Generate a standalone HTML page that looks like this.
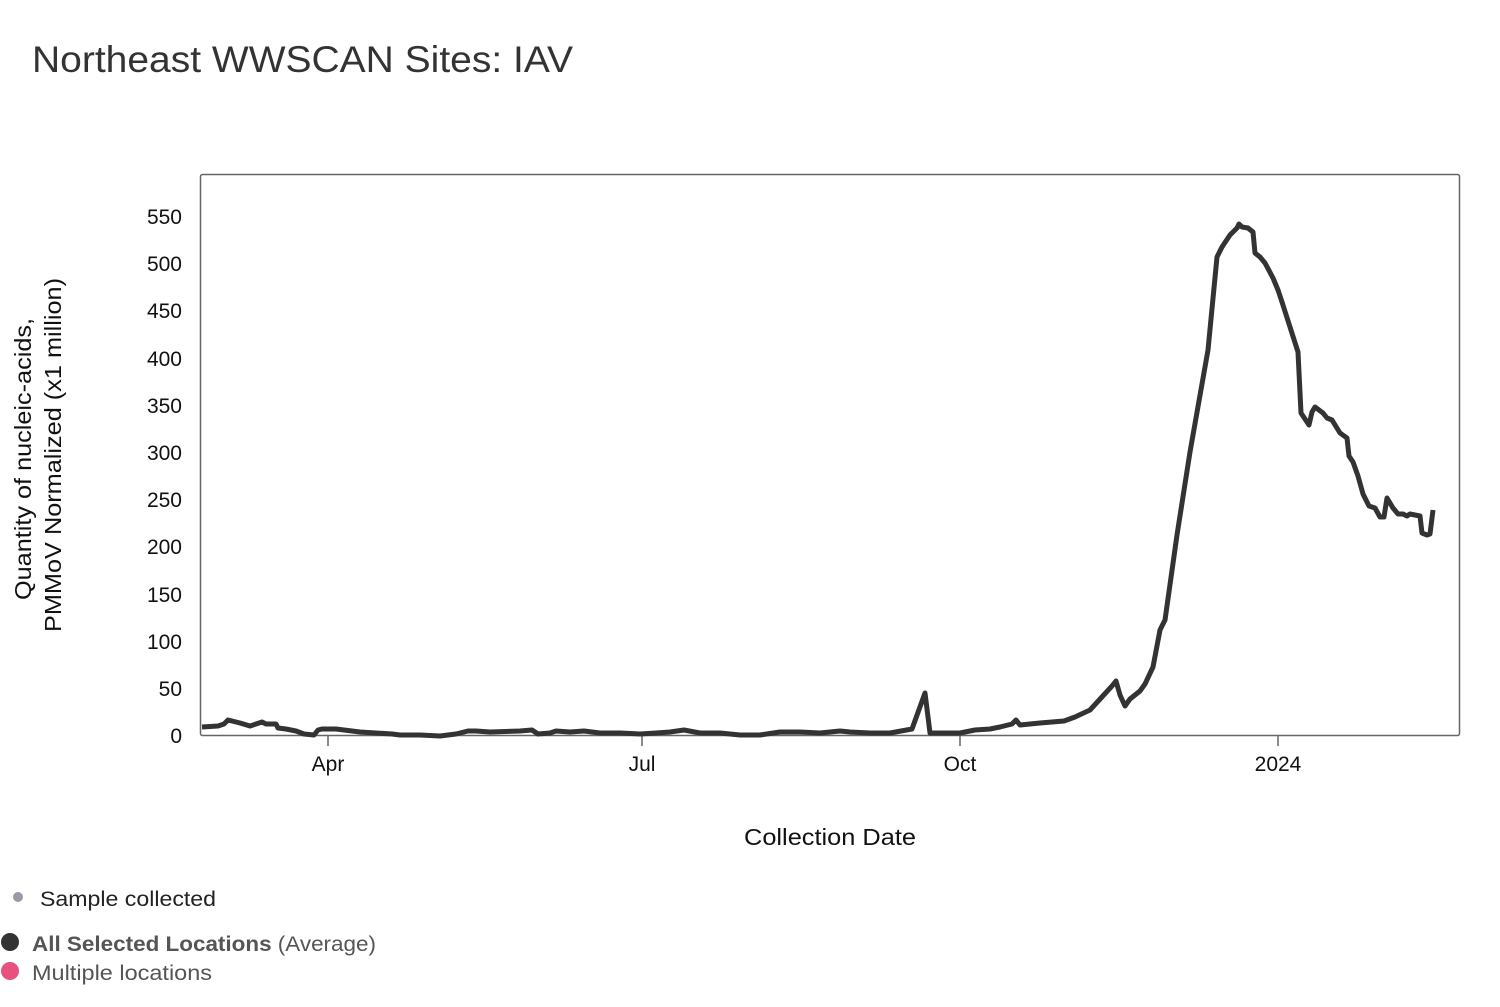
<!DOCTYPE html>
<html><head><meta charset="utf-8"><style>
body{margin:0;background:#fff;width:1500px;height:1002px;overflow:hidden;font-family:"Liberation Sans",sans-serif}
</style></head><body>
<svg width="1500" height="1002" viewBox="0 0 1500 1002" xmlns="http://www.w3.org/2000/svg" font-family="Liberation Sans, sans-serif">
<text x="32" y="72" font-size="37" fill="#333" textLength="541" lengthAdjust="spacingAndGlyphs">Northeast WWSCAN Sites: IAV</text>
<rect x="200.5" y="174.5" width="1259" height="561" fill="none" stroke="#666" stroke-width="1.5" rx="2"/>
<g font-size="21" fill="#111" text-anchor="end">
<text x="182" y="743">0</text><text x="182" y="696">50</text><text x="182" y="649">100</text>
<text x="182" y="602">150</text><text x="182" y="554">200</text><text x="182" y="507">250</text>
<text x="182" y="460">300</text><text x="182" y="413">350</text><text x="182" y="366">400</text>
<text x="182" y="318">450</text><text x="182" y="271">500</text><text x="182" y="224">550</text>
</g>
<g stroke="#666" stroke-width="1.5"><line x1="328" y1="736" x2="328" y2="746"/><line x1="642" y1="736" x2="642" y2="746"/><line x1="960" y1="736" x2="960" y2="746"/><line x1="1278" y1="736" x2="1278" y2="746"/></g>
<g font-size="21" fill="#111" text-anchor="middle">
<text x="328" y="771">Apr</text><text x="642" y="771">Jul</text><text x="960" y="771">Oct</text><text x="1278" y="771">2024</text>
<text x="830" y="845" font-size="23" textLength="172" lengthAdjust="spacingAndGlyphs">Collection Date</text>
</g>
<text transform="translate(31,459) rotate(-90)" font-size="23" fill="#111" text-anchor="middle" textLength="282" lengthAdjust="spacingAndGlyphs">Quantity of nucleic-acids,</text>
<text transform="translate(61,455) rotate(-90)" font-size="23" fill="#111" text-anchor="middle" textLength="354" lengthAdjust="spacingAndGlyphs">PMMoV Normalized (x1 million)</text>
<polyline fill="none" stroke="#333" stroke-width="5" stroke-linejoin="round" points="202,727 218,726 224,724 228,720 240,723 250,726 256,724 262,722 266,724 276,724 278,728 286,729 296,731 304,734 314,735 318,730 322,729 336,729 344,730 360,732 376,733 392,734 400,735 420,735 440,736 456,734 468,731 476,731 490,732 520,731 532,730 538,734 550,733 556,731 570,732 584,731 600,733 620,733 640,734 656,733 670,732 684,730 700,733 720,733 740,735 760,735 780,732 800,732 820,733 840,731 850,732 870,733 890,733 912,729 925,693 930,733 940,733 960,733 975,730 990,729 1000,727 1012,724 1016,720 1020,725 1040,723 1064,721 1075,717 1090,710 1112,686 1116,681 1120,695 1125,706 1130,699 1140,691 1145,684 1153,667 1160,630 1165,620 1177,535 1190,452 1208,350 1217,257 1222,247 1230,235 1237,228 1239,224 1242,227 1248,228 1253,232 1255,253 1260,257 1265,263 1273,278 1278,290 1282,302 1290,327 1298,352 1301,413 1309,425 1312,412 1315,407 1323,413 1327,418 1332,420 1340,433 1347,438 1349,456 1353,462 1358,476 1363,494 1369,506 1375,508 1380,517 1384,517 1387,498 1393,508 1398,514 1403,514 1407,516 1410,514 1415,515 1420,516 1422,533 1427,535 1430,534 1433,510"/>
<circle cx="18" cy="897" r="5" fill="#9a9aa6"/>
<text x="40" y="906" font-size="21" fill="#222" textLength="176" lengthAdjust="spacingAndGlyphs">Sample collected</text>
<circle cx="10" cy="942" r="9" fill="#333"/>
<text x="32" y="951" font-size="21" fill="#555" textLength="344" lengthAdjust="spacingAndGlyphs"><tspan font-weight="bold">All Selected Locations</tspan> (Average)</text>
<circle cx="10" cy="971" r="9" fill="#e8507e"/>
<text x="32" y="980" font-size="21" fill="#555" textLength="180" lengthAdjust="spacingAndGlyphs">Multiple locations</text>
</svg>
</body></html>
